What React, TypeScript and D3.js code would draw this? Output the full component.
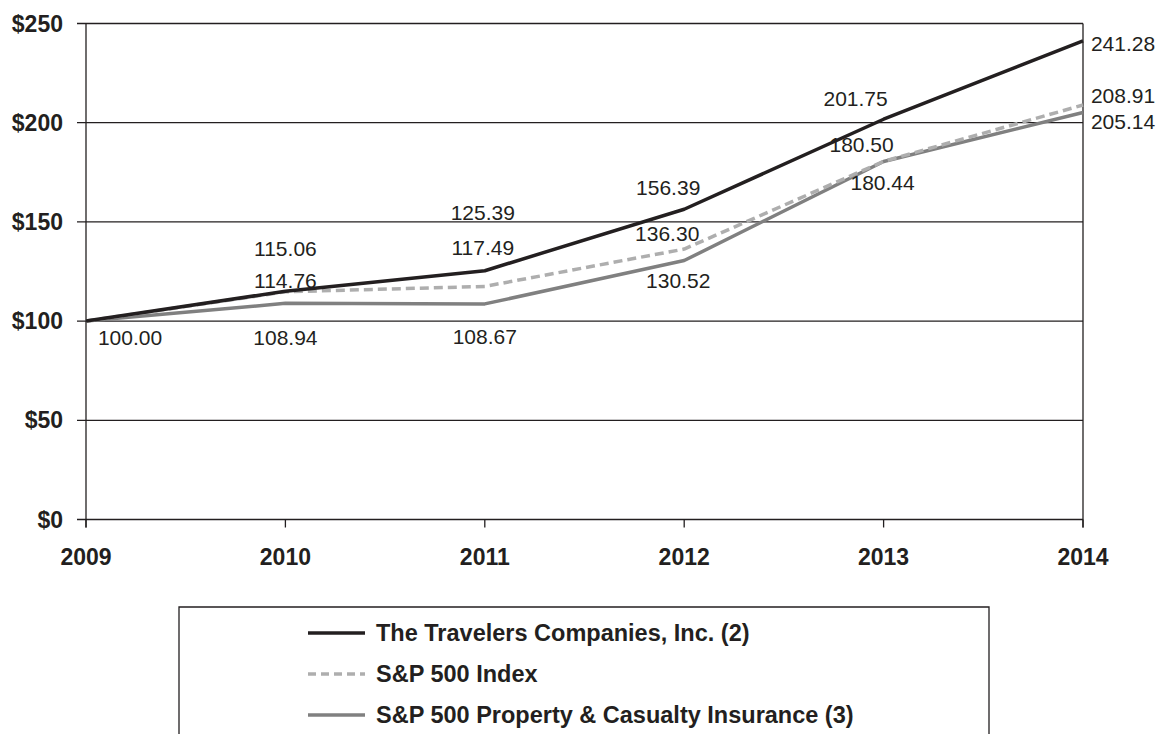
import React from "react";
import * as d3 from "d3";

const years = [2009, 2010, 2011, 2012, 2013, 2014];
const travelers = [100.0, 115.06, 125.39, 156.39, 201.75, 241.28];
const sp500 = [100.0, 114.76, 117.49, 136.3, 180.5, 208.91];
const spPC = [100.0, 108.94, 108.67, 130.52, 180.44, 205.14];
const yTicks = [0, 50, 100, 150, 200, 250];
const seriesNames = [
  "The Travelers Companies, Inc. (2)",
  "S&P 500 Index",
  "S&P 500 Property & Casualty Insurance (3)",
];

// label offsets (style, in px) relative to each point
const travelersLabelOffsets: ([number, number] | null)[] = [null, [0, -43], [-2, -58], [-16, -22], [-28, -21], [40, 3]];
const sp500LabelOffsets: ([number, number] | null)[] = [null, [0, -11], [-2, -39], [-17, -16], [-22, -17], [40, -10]];
const spPCLabelOffsets: ([number, number] | null)[] = [[44, 16], [0, 34], [0, 33], [-6, 20], [-1, 21], [40, 9]];

const W = 1165;
const H = 734;
const margin = { left: 86, right: 82, top: 23.5, bottom: 214.5 };

export default function App() {
  const x = d3
    .scaleLinear()
    .domain([2009, 2014])
    .range([margin.left, W - margin.right]);
  const y = d3
    .scaleLinear()
    .domain([0, 250])
    .range([H - margin.bottom, margin.top]);

  const line = d3
    .line<number>()
    .x((_, i) => x(years[i]))
    .y((d) => y(d));

  const series = [
    { values: travelers, color: "#231f20", dash: undefined as string | undefined, offsets: travelersLabelOffsets },
    { values: sp500, color: "#aeaeae", dash: "9,5", offsets: sp500LabelOffsets },
    { values: spPC, color: "#808080", dash: undefined as string | undefined, offsets: spPCLabelOffsets },
  ];
  const drawOrder = [2, 1, 0];

  const font = "'Liberation Sans', Arial, Helvetica, sans-serif";
  const x0 = x(2009);
  const x1 = x(2014);
  const yBottom = y(0);

  const legend = { left: 179, top: 607, right: 989, rowY: [633, 674, 715], lineX0: 308, lineX1: 365, textX: 376 };

  return (
    <svg
      width={W}
      height={H}
      style={{ position: "absolute", left: 0, top: 0, background: "#fff" }}
      fontFamily={font}
    >
      <rect x={0} y={0} width={W} height={H} fill="#fff" />
      {/* gridlines */}
      {yTicks.map((t) => (
        <line key={t} x1={x0 - 9} x2={x1} y1={y(t)} y2={y(t)} stroke="#231f20" strokeWidth={1.3} />
      ))}
      {/* axis frame */}
      <line x1={x0} x2={x0} y1={y(250)} y2={yBottom + 8} stroke="#231f20" strokeWidth={1.3} />
      <line x1={x1} x2={x1} y1={y(250)} y2={yBottom + 8} stroke="#231f20" strokeWidth={1.3} />
      {years.map((yr) => (
        <line key={yr} x1={x(yr)} x2={x(yr)} y1={yBottom} y2={yBottom + 8} stroke="#231f20" strokeWidth={1.3} />
      ))}
      {/* y tick labels */}
      {yTicks.map((t) => (
        <text
          key={t}
          x={63}
          y={y(t)}
          textAnchor="end"
          dominantBaseline="central"
          fontWeight="bold"
          fontSize={23}
          fill="#231f20"
        >
          {"$" + t}
        </text>
      ))}
      {/* x tick labels */}
      {years.map((yr) => (
        <text
          key={yr}
          x={x(yr)}
          y={557}
          textAnchor="middle"
          dominantBaseline="central"
          fontWeight="bold"
          fontSize={23}
          fill="#231f20"
        >
          {yr}
        </text>
      ))}
      {/* lines */}
      {drawOrder.map((si) => {
        const s = series[si];
        return (
          <path
            key={si}
            d={line(s.values) || ""}
            fill="none"
            stroke={s.color}
            strokeWidth={3.5}
            strokeDasharray={s.dash}
            strokeLinejoin="round"
          />
        );
      })}
      {/* data labels */}
      {series.map((s, si) =>
        s.values.map((v, i) => {
          const off = s.offsets[i];
          if (!off) return null;
          return (
            <text
              key={si + "-" + i}
              x={x(years[i]) + off[0]}
              y={y(v) + off[1]}
              textAnchor="middle"
              dominantBaseline="central"
              fontSize={21}
              fill="#231f20"
            >
              {v.toFixed(2)}
            </text>
          );
        })
      )}
      {/* legend */}
      <path
        d={`M${legend.left},${H + 2}V${legend.top}H${legend.right}V${H + 2}`}
        fill="none"
        stroke="#231f20"
        strokeWidth={1.3}
      />
      {series.map((s, si) => (
        <g key={si}>
          <line
            x1={legend.lineX0}
            x2={legend.lineX1}
            y1={legend.rowY[si]}
            y2={legend.rowY[si]}
            stroke={s.color}
            strokeWidth={3.5}
            strokeDasharray={s.dash ? "8,5" : undefined}
          />
          <text
            x={legend.textX}
            y={legend.rowY[si]}
            dominantBaseline="central"
            fontWeight="bold"
            fontSize={23.5}
            fill="#231f20"
          >
            {seriesNames[si]}
          </text>
        </g>
      ))}
    </svg>
  );
}
